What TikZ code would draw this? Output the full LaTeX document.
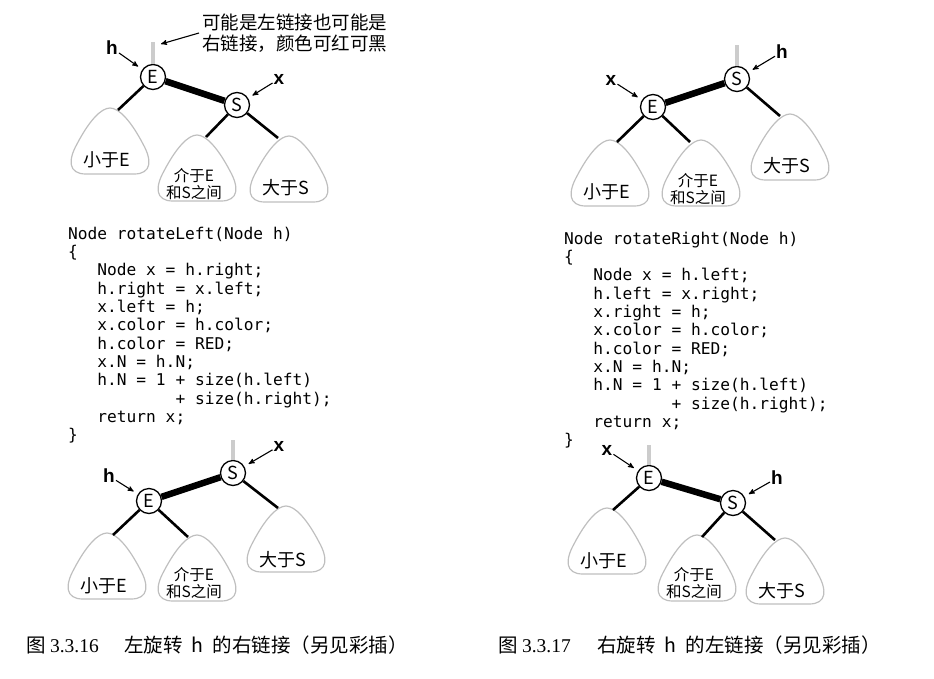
\documentclass[tikz,border=0pt]{standalone}
\usepackage{fontspec}
\setmainfont{Noto Sans CJK SC}
\newfontfamily\codefont{DejaVu Sans Mono}
\newfontfamily\capfont{Liberation Serif}
\newfontfamily\tagfont{Liberation Sans}
\usetikzlibrary{calc,arrows}

\begin{document}
\begin{tikzpicture}[
    x=1pt, y=-1pt,
    key/.style={circle,draw,line width=1.3pt,fill=white,minimum size=25pt,
      inner sep=0pt,font=\fontsize{18}{18}\selectfont},
    tag/.style={font=\tagfont\bfseries\fontsize{19}{19}\selectfont,inner sep=1pt},
    pointer/.style={black,->,>=stealth',line width=1.1pt,shorten >=5pt},
    link/.style={black,line width=2.6pt},
    redlink/.style={black,line width=6.5pt},
    stub/.style={gray!40,line width=4.5pt},
    subtree/.style={draw=gray!50,line width=1.2pt},
    sub/.style={font=\fontsize{18}{18}\selectfont,inner sep=0pt},
    subsmall/.style={font=\fontsize{15.5}{17}\selectfont,align=center,inner sep=0pt},
    code/.style={font=\codefont\fontsize{16.2}{18}\selectfont,anchor=base west,
      inner sep=0pt},
    note/.style={font=\fontsize{18.5}{21}\selectfont,align=left,anchor=west,
      inner sep=3pt},
    caption/.style={font=\fontsize{19.5}{19.5}\selectfont,anchor=base west,
      inner sep=0pt},
  ]
  \useasboundingbox (0,0) rectangle (934,678);

  % Before rotateLeft
  \node[key] (Ea) at (153,77) {E};
  \node[key] (Sa) at (237,105) {S};
  \coordinate (stuba) at (153,42);
  \coordinate (la) at (118,110);
  \coordinate (ma) at (206,137);
  \coordinate (ra) at (278,138);
  \node[tag] (ha) at (112,48) {h};
  \node[tag] (xa) at (279,79) {x};
  \node[note] (notea) at (199,33) {可能是左链接也可能是\\右链接，颜色可红可黑};
  \coordinate (notetip) at (161,44);

  % Before rotateRight
  \node[key] (Sb) at (737,79) {S};
  \node[key] (Eb) at (653,107) {E};
  \coordinate (stubb) at (737,45);
  \coordinate (lb) at (617,142);
  \coordinate (mb) at (690,142);
  \coordinate (rb) at (780,116);
  \node[tag] (hb) at (782,52) {h};
  \node[tag] (xb) at (611,80) {x};

  % After rotateLeft
  \node[key] (Sc) at (233,473) {S};
  \node[key] (Ec) at (149,501) {E};
  \coordinate (stubc) at (233,440);
  \coordinate (lc) at (113,535);
  \coordinate (mc) at (188,537);
  \coordinate (rc) at (278,508);
  \node[tag] (xc) at (279,446) {x};
  \node[tag] (hc) at (109,476) {h};

  % After rotateRight
  \node[key] (Ed) at (649,478) {E};
  \node[key] (Sd) at (733,503) {S};
  \coordinate (stubd) at (649,445);
  \coordinate (ld) at (613,510);
  \coordinate (md) at (702,537);
  \coordinate (rd) at (775,540);
  \node[tag] (xd) at (607,450) {x};
  \node[tag] (hd) at (777,478) {h};

  % Subtrees (the link meets the rounded top a little off its middle)
  \foreach \ap/\d/\dy/\sty/\txt in {la/-8/50/sub/小于E, ma/-9/47/subsmall/{介于E\\和S之间},
      ra/11/50/sub/大于S, lb/-7/50/sub/小于E, mb/11/47/subsmall/{介于E\\和S之间},
      rb/10/50/sub/大于S, lc/-6/51/sub/小于E, mc/9/46/subsmall/{介于E\\和S之间},
      rc/8/52/sub/大于S, ld/-6/51/sub/小于E, md/-5/46/subsmall/{介于E\\和S之间},
      rd/10/51/sub/大于S} {
    \draw[subtree,shift={($(\ap)+(\d,-2)$)}] (0,0)
      .. controls (9,0) and (21,13) .. (33,36)
      .. controls (42,52) and (42,66) .. (24,66) -- (-24,66)
      .. controls (-42,66) and (-42,52) .. (-33,36)
      .. controls (-21,13) and (-9,0) .. (0,0) -- cycle;
    \node[\sty] (t\ap) at ($(\ap)+(\d-3,\dy)$) {\txt};
  }

  % Links
  \foreach \from/\to in {Ea/la, Sa/ma, Sa/ra, Eb/lb, Eb/mb, Sb/rb,
                         Ec/lc, Ec/mc, Sc/rc, Ed/ld, Sd/md, Sd/rd}
    \draw[link] (\from) -- (\to);
  \foreach \from/\to in {Ea/Sa, Eb/Sb, Ec/Sc, Ed/Sd}
    \draw[redlink] (\from) -- (\to);
  \foreach \root/\top in {Ea/stuba, Sb/stubb, Sc/stubc, Ed/stubd}
    \draw[stub] (\root) -- (\top);

  % Pointers
  \foreach \from/\to in {ha/Ea, xa/Sa, hb/Sb, xb/Eb, xc/Sc, hc/Ec, xd/Ed, hd/Sd}
    \draw[pointer] (\from) -- (\to);
  \draw[pointer,shorten >=0pt] (notea.west) -- (notetip);

  % Code
  \foreach \n/\ind/\txt in {0/0/{Node rotateLeft(Node h)}, 1/0/\{,
      2/3/{Node x = h.right;}, 3/3/{h.right = x.left;}, 4/3/{x.left = h;},
      5/3/{x.color = h.color;}, 6/3/{h.color = RED;}, 7/3/{x.N = h.N;},
      8/3/{h.N = 1 + size(h.left)}, 9/11/{+ size(h.right);},
      10/3/{return x;}, 11/0/\}}
    \node[code] (codeL\n) at (68+\ind*9.76, 239+\n*18.36) {\txt};

  \foreach \n/\ind/\txt in {0/0/{Node rotateRight(Node h)}, 1/0/\{,
      2/3/{Node x = h.left;}, 3/3/{h.left = x.right;}, 4/3/{x.right = h;},
      5/3/{x.color = h.color;}, 6/3/{h.color = RED;}, 7/3/{x.N = h.N;},
      8/3/{h.N = 1 + size(h.left)}, 9/11/{+ size(h.right);},
      10/3/{return x;}, 11/0/\}}
    \node[code] (codeR\n) at (564+\ind*9.76, 244+\n*18.36) {\txt};

  % Captions
  \node[caption] (numL) at (26,652) {图 {\capfont 3.3.16}};
  \node[caption] (titleL) at (124,652)
    {左旋转\hspace{9pt}h\hspace{9pt}的右链接（另见彩插）};
  \node[caption] (numR) at (498,652) {图 {\capfont 3.3.17}};
  \node[caption] (titleR) at (597,652)
    {右旋转\hspace{9pt}h\hspace{9pt}的左链接（另见彩插）};
\end{tikzpicture}
\end{document}
